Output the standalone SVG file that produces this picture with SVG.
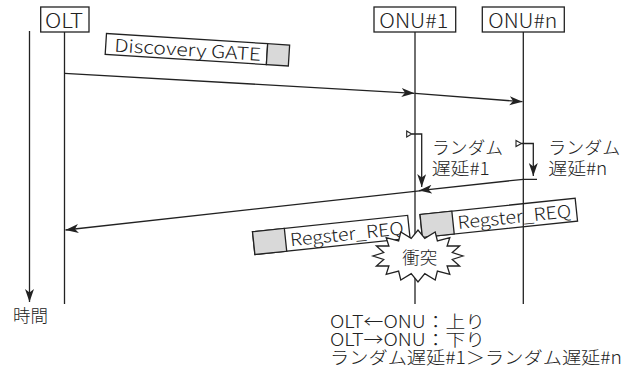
<svg xmlns="http://www.w3.org/2000/svg" width="633" height="378" viewBox="0 0 633 378">
<style>
text{font-family:"Noto Sans CJK JP","Noto Sans",sans-serif;font-size:17.5px;font-weight:300;fill:#222}
.big{font-size:19.5px}
.box{fill:#fff;stroke:#222;stroke-width:1.3}
.grey{fill:#d9d9d9;stroke:#222;stroke-width:1.3}
.ln{fill:none;stroke:#222;stroke-width:1.3}
.arr{fill:none;stroke:#222;stroke-width:1.3;marker-end:url(#ah)}
.tri{fill:#fff;stroke:#222;stroke-width:1.1}
</style>
<defs>
<marker id="ah" markerUnits="userSpaceOnUse" markerWidth="14" markerHeight="10" refX="13" refY="4.5" orient="auto">
<path d="M0,0 L13,4.5 L0,9 L3.5,4.5 z" fill="#222"/>
</marker>
</defs>
<rect width="633" height="378" fill="#fff"/>

<g id="time-axis">
<line class="arr" x1="29.5" y1="31" x2="29.5" y2="302"/>
<text x="13" y="322">時間</text>
</g>

<g id="msg-discovery-gate" transform="translate(106.5,33.5) rotate(3.6)">
<rect class="box" x="0" y="0" width="161.5" height="21"/>
<rect class="grey" x="161.5" y="0" width="22" height="21"/>
<text x="8.5" y="17.5" font-size="19" textLength="147" lengthAdjust="spacingAndGlyphs">Discovery GATE</text>
</g>

<g id="msg-regster-req-1" transform="translate(252.5,231.7) rotate(-6)">
<rect class="box" x="0" y="0" width="156" height="23"/>
<rect class="grey" x="0" y="0" width="32" height="23"/>
<text x="36.5" y="18.5" font-size="18" textLength="114" lengthAdjust="spacingAndGlyphs">Regster_REQ</text>
</g>

<g id="msg-regster-req-n" transform="translate(420,214.5) rotate(-6)">
<rect class="box" x="0" y="0" width="156" height="23"/>
<rect class="grey" x="0" y="0" width="32" height="23"/>
<text x="36.5" y="18.5" font-size="18" textLength="114" lengthAdjust="spacingAndGlyphs">Regster_REQ</text>
</g>

<g id="OLT">
<rect class="box" x="40.7" y="7" width="48.3" height="25"/>
<text class="big" x="45" y="28.3" textLength="38" lengthAdjust="spacingAndGlyphs">OLT</text>
<line class="ln" x1="64.5" y1="32" x2="64.5" y2="304"/>
</g>

<g id="ONU1">
<rect class="box" x="374" y="7" width="81.7" height="25"/>
<text class="big" x="379.3" y="28.3" textLength="69" lengthAdjust="spacingAndGlyphs">ONU#1</text>
<line class="ln" x1="415" y1="32" x2="415" y2="304"/>
</g>

<g id="ONUn">
<rect class="box" x="482.3" y="7" width="82" height="25"/>
<text class="big" x="488.3" y="28.3" textLength="69" lengthAdjust="spacingAndGlyphs">ONU#n</text>
<line class="ln" x1="523.3" y1="32" x2="523.3" y2="304"/>
</g>

<g id="connectors">
<line class="arr" x1="64.5" y1="73.3" x2="414.5" y2="93.3"/>
<line class="arr" x1="415" y1="93.3" x2="522.5" y2="101.7"/>
<polygon class="tri" points="406.7,131 411.7,134 406.7,137"/>
<polyline class="arr" points="411.7,134 421.7,134 421.7,187"/>
<polygon class="tri" points="516,140.5 521.5,143.5 516,146.5"/>
<polyline class="arr" points="521.5,143.5 533.3,143.5 533.3,176"/>
<polyline class="arr" points="537,179.3 523.3,179.3 419,190.6"/>
<line class="arr" x1="421.7" y1="190.6" x2="65.5" y2="230"/>
</g>

<g id="delay-labels">
<text x="432" y="154" textLength="71" lengthAdjust="spacingAndGlyphs">ランダム</text>
<text x="431.7" y="175" textLength="58" lengthAdjust="spacingAndGlyphs">遅延#1</text>
<text x="548.3" y="154" textLength="72" lengthAdjust="spacingAndGlyphs">ランダム</text>
<text x="548.3" y="175" textLength="59" lengthAdjust="spacingAndGlyphs">遅延#n</text>
</g>

<g id="collision">
<polygon class="box" stroke-linejoin="miter" points="463,256 452.3,259.5 459.6,266 447.1,266 449.8,274.4 437.4,271 435.2,280 424.8,273.7 418,282 411.2,273.7 400.8,280 398.6,271 386.2,274.4 388.9,266 376.4,266 383.7,259.5 373,256 383.7,252.5 376.4,246 388.9,246 386.2,237.6 398.6,241 400.8,232 411.2,238.3 418,230 424.8,238.3 435.2,232 437.4,241 449.8,237.6 447.1,246 459.6,246 452.3,252.5"/>
<text x="419.8" y="264" text-anchor="middle">衝突</text>
</g>

<g id="legend">
<text x="330" y="328" font-size="18" textLength="155" lengthAdjust="spacingAndGlyphs">OLT←ONU：上り</text>
<text x="330" y="346" font-size="18" textLength="155" lengthAdjust="spacingAndGlyphs">OLT→ONU：下り</text>
<text x="330" y="364" font-size="18" textLength="292" lengthAdjust="spacingAndGlyphs">ランダム遅延#1＞ランダム遅延#n</text>
</g>
</svg>
